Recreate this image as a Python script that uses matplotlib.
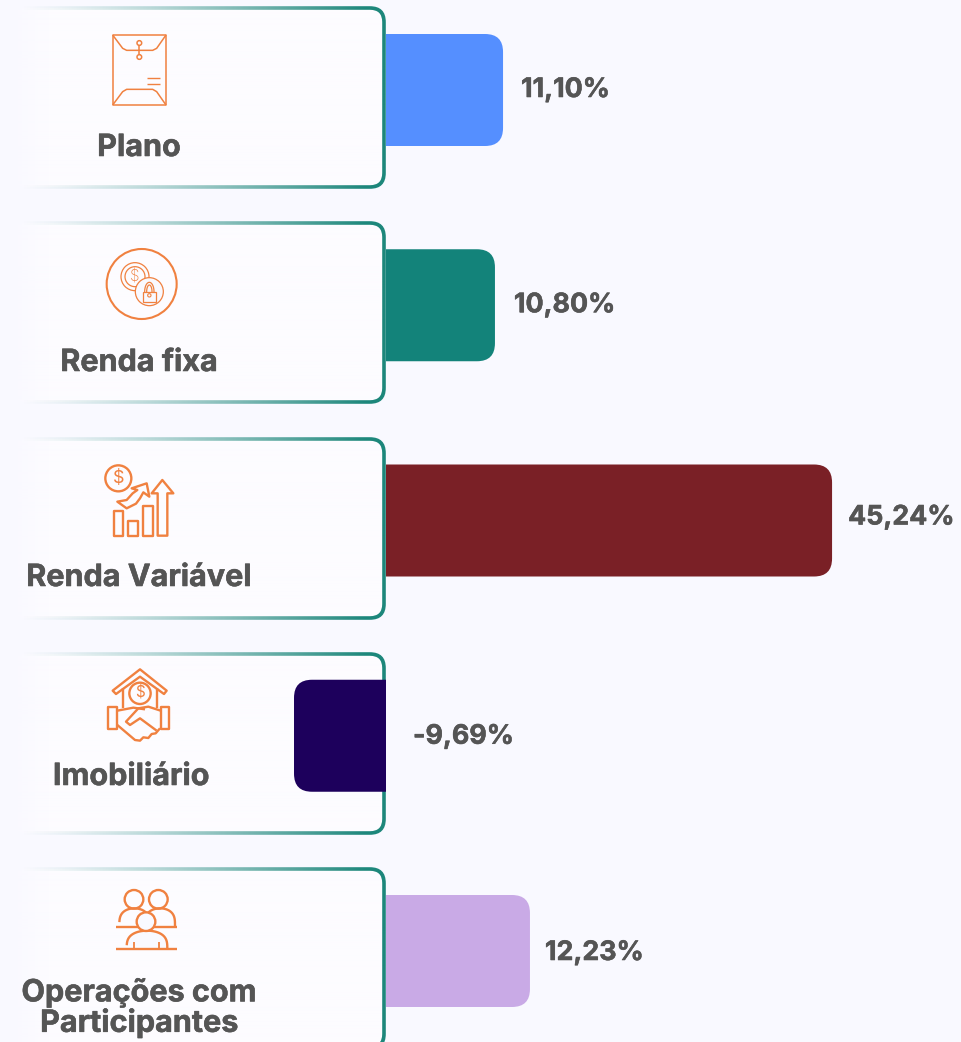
import numpy as np
import matplotlib
matplotlib.use("Agg")
import matplotlib.pyplot as plt
import matplotlib.patheffects as pe
from matplotlib.path import Path
from matplotlib.patches import PathPatch, Circle, Polygon, Rectangle
from matplotlib.colors import to_rgb

categories = ["Plano", "Renda fixa", "Renda Variável", "Imobiliário", "Operações com\nParticipantes"]
value_labels = ["11,10%", "10,80%", "45,24%", "-9,69%", "12,23%"]
bar_lengths = [11.87, 11.05, 45.24, -9.33, 14.60]
bar_colors = ["#558fff", "#13837a", "#7a2026", "#1d005c", "#c9aae6"]
label_x = [139, 139, 139, 131, 139]
label_y = [148, 363, 578, 777, 1008]
value_offset = [(18, 0), (19, 0), (16, 3), (27, -1), (15, -2)]

W, H = 962, 1042
BG = "#f9f9ff"
ORANGE = "#f08140"
TEAL = to_rgb("#1d877b")
TXT = "#555555"
FONT = "Inter"
plt.rcParams["font.family"] = [FONT, "DejaVu Sans"]
HEAVY = [pe.withStroke(linewidth=0.4, foreground=TXT)]

fig = plt.figure(figsize=(W / 100, H / 100), dpi=100, facecolor=BG)
px = fig.add_axes([0, 0, 1, 1], zorder=1)
ax = fig.add_axes([0, 0, 1, 1], zorder=2)
px.axis("off")
ax.axis("off")

# ---- data axes for bars
ZERO, SX, Y0, SY = 386.0, 9.86, 90.0, 215.25
ax.set_xlim(-ZERO / SX, (W - ZERO) / SX)
ax.set_ylim((H - Y0) / SY, -Y0 / SY)
ax.patch.set_alpha(0)


def rounded_bar(i, v, color):
    r = 18
    rx, ry = r / SX, r / SY
    h = 56 / SY
    s = np.sign(v)
    verts = [(0, i - h), (v - s * rx, i - h), (v, i - h), (v, i - h + ry),
             (v, i + h - ry), (v, i + h), (v - s * rx, i + h), (0, i + h), (0, i - h)]
    codes = [Path.MOVETO, Path.LINETO, Path.CURVE3, Path.CURVE3,
             Path.LINETO, Path.CURVE3, Path.CURVE3, Path.LINETO, Path.CLOSEPOLY]
    ax.add_patch(PathPatch(Path(verts, codes), fc=color, ec="none"))


for i, (v, c, lab, off) in enumerate(zip(bar_lengths, bar_colors, value_labels, value_offset)):
    rounded_bar(i, v, c)
    ax.annotate(lab, xy=(max(v, 0), i), xytext=(off[0] * 0.72, off[1] * 0.72),
                textcoords="offset points", ha="left", va="center",
                fontsize=19.3, fontweight="bold", color=TXT, path_effects=HEAVY)

# ---- pixel axes for cards and icons
px.set_facecolor(BG)
xs = np.linspace(0, 400, 800)
fill = np.ones((2, 800, 4))
fill[..., :3] = to_rgb("#fdfcff")
fill[..., 3] = np.clip((xs - 8) / 40, 0, 1)
edge = np.ones((2, 800, 4))
edge[..., :3] = TEAL
edge[..., 3] = np.clip((xs - 20) / 345, 0, 1) ** 1.25


def card_path(x0, y0, x1, y1, r=14):
    return Path([(x0 + r, y0), (x1 - r, y0), (x1, y0), (x1, y0 + r), (x1, y1 - r), (x1, y1),
                 (x1 - r, y1), (x0 + r, y1), (x0, y1), (x0, y1 - r), (x0, y0 + r), (x0, y0),
                 (x0 + r, y0), (x0 + r, y0)],
                [Path.MOVETO, Path.LINETO, Path.CURVE3, Path.CURVE3, Path.LINETO, Path.CURVE3,
                 Path.CURVE3, Path.LINETO, Path.CURVE3, Path.CURVE3, Path.LINETO, Path.CURVE3,
                 Path.CURVE3, Path.CLOSEPOLY])


def ring_path(x0, y0, x1, y1, t=3.6):
    outer = card_path(x0 - t / 2, y0 - t / 2, x1 + t / 2, y1 + t / 2, 15.8)
    inner = card_path(x0 + t / 2, y0 + t / 2, x1 - t / 2, y1 - t / 2, 12.2)
    po = outer.to_polygons(closed_only=True)[0]
    pi_ = inner.to_polygons(closed_only=True)[0][::-1]
    verts = np.vstack([po, pi_])
    codes = ([Path.MOVETO] + [Path.LINETO] * (len(po) - 1) +
             [Path.MOVETO] + [Path.LINETO] * (len(pi_) - 1))
    return Path(verts, codes)


def card(top):
    y0, y1 = top, top + 179
    im = px.imshow(fill, extent=(0, 400, y1 + 4, y0 - 4), aspect="auto", zorder=1)
    clip = PathPatch(card_path(12, y0, 384, y1), transform=px.transData, fc="none", ec="none")
    px.add_patch(clip)
    im.set_clip_path(clip)
    im2 = px.imshow(edge, extent=(0, 400, y1 + 4, y0 - 4), aspect="auto", zorder=2)
    clip2 = PathPatch(ring_path(12, y0, 384, y1), transform=px.transData, fc="none", ec="none")
    px.add_patch(clip2)
    im2.set_clip_path(clip2)


for top in (8, 223, 439, 654, 869):
    card(top)

LW = 1.3
Z = 3


def P(off, pts):
    return [(off[0] + x / 3, off[1] + y / 3) for x, y in pts]


def line(off, pts, lw=LW, closed=False, fc="none"):
    px.add_patch(Polygon(P(off, pts), closed=closed, fc=fc, ec=ORANGE, lw=lw, zorder=Z, joinstyle="round"))


def circ(off, x, y, r, lw=LW, fc="none", z=Z):
    px.add_patch(Circle((off[0] + x / 3, off[1] + y / 3), r / 3, fc=fc, ec=ORANGE, lw=lw, zorder=z))


# envelope
o = (0, 0)
line(o, [(338, 105), (498, 105), (498, 315), (338, 315)], lw=1.1, closed=True)
line(o, [(338, 105), (368, 145), (380, 151), (458, 151), (470, 145), (498, 105)], lw=1.1)
line(o, [(338, 315), (368, 275), (380, 268), (458, 268), (470, 275), (498, 315)], lw=1.1)
line(o, [(418, 137), (418, 163)], lw=1.1)
circ(o, 418, 129, 7, lw=1.1)
circ(o, 418, 171, 7, lw=1.1)
line(o, [(442, 235), (481, 235)], lw=1.0)
line(o, [(442, 252), (481, 252)], lw=1.0)

# coins and lock
o = (80, 240)
circ(o, 185, 132, 105, lw=1.5)
circ(o, 165, 110, 42, lw=0.9)
circ(o, 165, 110, 30, lw=0.9)
px.text(o[0] + 163 / 3, o[1] + 110 / 3, "$", color=ORANGE, fontsize=11, ha="center", va="center", zorder=Z, fontweight="light")
circ(o, 208, 155, 42, lw=0.9, fc=BG, z=Z + 0.1)
line_z = Z + 0.2
px.add_patch(Rectangle((o[0] + 188 / 3, o[1] + 155 / 3), 40 / 3, 30 / 3, fc="none", ec=ORANGE, lw=0.9, zorder=line_z))
t = np.linspace(np.pi, 2 * np.pi, 30)
px.plot(o[0] + (208 + 14 * np.cos(t)) / 3, o[1] + (155 + 28 * np.sin(t)) / 3, color=ORANGE, lw=0.9, zorder=line_z)
px.plot(o[0] + (208 + 8 * np.cos(t)) / 3, o[1] + (155 + 20 * np.sin(t)) / 3, color=ORANGE, lw=0.9, zorder=line_z)
circ(o, 208, 166, 5, lw=0.8, z=line_z)

# growth
o = (90, 455)
LW2 = 1.7
circ(o, 85, 70, 39, lw=LW2)
px.text(o[0] + 85 / 3, o[1] + 70 / 3, "$", color=ORANGE, fontsize=13, ha="center", va="center", zorder=Z)
line(o, [(72, 168), (100, 168), (100, 242), (72, 242)], lw=LW2, closed=True)
line(o, [(115, 197), (145, 197), (145, 242), (115, 242)], lw=LW2, closed=True)
line(o, [(160, 152), (190, 152), (190, 242), (160, 242)], lw=LW2, closed=True)
line(o, [(217, 75), (250, 115), (232, 115), (232, 242), (203, 242), (203, 115), (185, 115)], lw=LW2, closed=True)
line(o, [(82, 140), (110, 135), (128, 115), (142, 105), (125, 100), (170, 85), (178, 125), (160, 112),
         (150, 130), (138, 146), (110, 160)], lw=LW2, closed=True)

# house and handshake
o = (90, 660)
line(o, [(68, 92), (150, 28), (230, 92), (222, 102), (150, 50), (78, 102)], lw=LW2, closed=True)
line(o, [(100, 85), (100, 145)], lw=LW2)
line(o, [(200, 85), (200, 145)], lw=LW2)
circ(o, 150, 100, 32, lw=LW2)
px.text(o[0] + 150 / 3, o[1] + 100 / 3, "$", color=ORANGE, fontsize=11, ha="center", va="center", zorder=Z)
line(o, [(55, 140), (82, 140), (82, 208), (55, 208)], lw=LW2, closed=True)
line(o, [(212, 140), (238, 140), (238, 208), (212, 208)], lw=LW2, closed=True)
line(o, [(82, 152), (130, 143), (165, 148)], lw=LW2)
line(o, [(212, 152), (175, 140), (145, 145), (108, 185), (120, 195), (150, 175), (200, 212)], lw=LW2)
line(o, [(82, 195), (135, 240), (150, 242), (160, 232), (175, 234), (185, 222), (197, 220), (210, 205)], lw=LW2)

# people
o = (90, 880)


def arc_shoulder(x0, x1, y_base, y_top):
    t = np.linspace(np.pi, 2 * np.pi, 40)
    cx, rx = (x0 + x1) / 2, (x1 - x0) / 2
    return [(cx + rx * np.cos(a), y_base + (y_top - y_base) * (-np.sin(a)) ** 0.6) for a in t]


line(o, arc_shoulder(88, 178, 138, 85), lw=LW2)
line(o, arc_shoulder(165, 255, 138, 85), lw=LW2)
line(o, [(78, 140), (262, 140)], lw=LW2)
circ(o, 132, 58, 28, lw=LW2)
circ(o, 205, 58, 28, lw=LW2)
px.add_patch(Polygon(P(o, arc_shoulder(110, 232, 208, 152)), closed=True, fc=BG, ec=ORANGE, lw=LW2, zorder=Z + 0.1))
circ(o, 168, 125, 28, lw=LW2, fc=BG, z=Z + 0.2)
px.add_patch(Polygon(P(o, [(78, 208), (262, 208)]), closed=False, fc="none", ec=ORANGE, lw=LW2, zorder=Z + 0.3))
px.add_patch(Polygon(P(o, [(132, 185), (132, 208)]), closed=False, fc="none", ec=ORANGE, lw=1.3, zorder=Z + 0.3))
px.add_patch(Polygon(P(o, [(208, 185), (208, 208)]), closed=False, fc="none", ec=ORANGE, lw=1.3, zorder=Z + 0.3))

# category labels
for cat, x, y in zip(categories, label_x, label_y):
    px.text(x, y, cat, ha="center", va="center", fontsize=22, fontweight="bold", color=TXT,
            linespacing=1.02, zorder=4, path_effects=HEAVY)

px.set_xlim(0, W)
px.set_ylim(H, 0)
fig.savefig("out.png", dpi=100, facecolor=BG)
